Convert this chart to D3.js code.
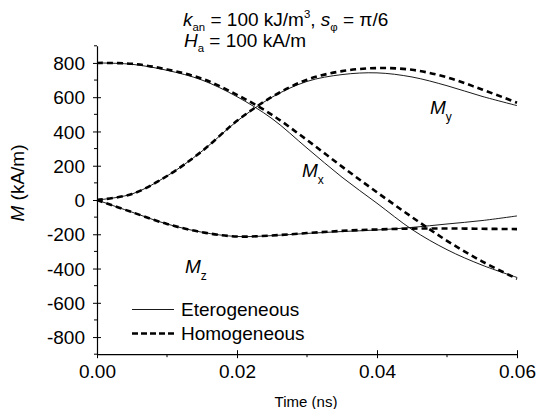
<!DOCTYPE html>
<html>
<head>
<meta charset="utf-8">
<script src="https://cdn.jsdelivr.net/npm/d3@7"></script>
<style>
  body { margin: 0; background: #fff; }
  text { font-family: "Liberation Sans", Arial, sans-serif; fill: #000; }
</style>
</head>
<body>
<script>
// time in ns
var time = [0, 0.005, 0.01, 0.015, 0.02, 0.025, 0.03, 0.035, 0.04, 0.045, 0.05, 0.055, 0.06];

// M components (kA/m), eterogeneous (thin) and homogeneous (dashed)
var mxHet = [800, 792, 757, 700, 603, 475, 303, 133, -19, -172, -290, -380, -452];
var mxHom = [800, 795, 762, 708, 614, 497, 350, 195, 45, -100, -238, -358, -460];
var myHet = [0, 35, 140, 285, 460, 600, 692, 732, 742, 718, 667, 605, 551];
var myHom = [0, 35, 140, 285, 462, 602, 702, 752, 770, 760, 716, 645, 568];
var mzHet = [0, -71, -140, -188, -213, -208, -195, -184, -175, -160, -140, -120, -93];
var mzHom = [0, -71, -140, -188, -213, -207, -193, -180, -172, -167, -166, -168, -170];

var xTicks = [0, 0.02, 0.04, 0.06];
var xMinor = [0.01, 0.03, 0.05];
var yTicks = [-800, -600, -400, -200, 0, 200, 400, 600, 800];
var yMinor = [-900, -700, -500, -300, -100, 100, 300, 500, 700, 900];

var screen = { width: 538, height: 409 };

var svg = d3.select('body')
            .append('svg')
            .attr('width', screen.width)
            .attr('height', screen.height);

var x = d3.scaleLinear().domain([0, 0.06]).range([97, 517]);
var y = d3.scaleLinear().domain([-900, 900]).range([354.2, 45.8]);

// axes
var xAxis = d3.axisBottom(x).tickValues(xTicks).tickSize(0).tickPadding(6)
              .tickFormat(d3.format('.2f'));
var gx = svg.append('g').attr('transform', 'translate(0,' + y(-900) + ')').call(xAxis);
gx.select('.domain').attr('stroke', '#000').attr('stroke-width', 1.2);
gx.selectAll('text').attr('font-size', 19).attr('dy', '0.95em')
  .style('font-family', '"Liberation Sans", Arial, sans-serif');
gx.selectAll('.tick').append('line').attr('y1', -4).attr('y2', 4).attr('stroke', '#000');
gx.selectAll('.minor').data(xMinor).enter().append('line')
  .attr('x1', function(d){ return x(d); }).attr('x2', function(d){ return x(d); })
  .attr('y1', 0).attr('y2', 3).attr('stroke', '#000');

var yAxis = d3.axisLeft(y).tickValues(yTicks).tickSize(0).tickPadding(12)
              .tickFormat(function(d){ return String(d); });
var gy = svg.append('g').attr('transform', 'translate(' + x(0) + ',0)').call(yAxis);
gy.select('.domain').attr('stroke', '#000').attr('stroke-width', 1.2);
gy.selectAll('text').attr('font-size', 19).attr('dy', '0.35em')
  .style('font-family', '"Liberation Sans", Arial, sans-serif');
gy.selectAll('.tick').append('line').attr('x1', -4).attr('x2', 4).attr('stroke', '#000');
gy.selectAll('.minor').data(yMinor).enter().append('line')
  .attr('y1', function(d){ return y(d); }).attr('y2', function(d){ return y(d); })
  .attr('x1', -3).attr('x2', 0).attr('stroke', '#000');

// curves
var line = d3.line()
             .x(function(d){ return x(d[0]); })
             .y(function(d){ return y(d[1]); })
             .curve(d3.curveCatmullRom);

var series = [
  [mxHet, false], [myHet, false], [mzHet, false],
  [mxHom, true], [myHom, true], [mzHom, true]
];
svg.append('g').selectAll('path')
   .data(series)
   .enter()
   .append('path')
   .attr('d', function(s){ return line(time.map(function(t, i){ return [t, s[0][i]]; })); })
   .attr('fill', 'none')
   .attr('stroke', '#000')
   .attr('stroke-width', function(s){ return s[1] ? 2.6 : 0.9; })
   .attr('stroke-dasharray', function(s){ return s[1] ? '6,4' : null; });

// curve labels
function compLabel(px, py, sub) {
  var t = svg.append('text').attr('x', px).attr('y', py).attr('font-size', 19);
  t.append('tspan').attr('font-style', 'italic').text('M');
  t.append('tspan').attr('font-size', 12).attr('dy', 7).text(sub);
}
compLabel(430, 114, 'y');
compLabel(302, 177, 'x');
compLabel(185, 273, 'z');

// title, two lines; parts are [text, kind] with kind n / i / sub / sup
var title1 = [['k', 'i'], ['an', 'sub'], [' = 100 kJ/m', 'n'], ['3', 'sup'], [', ', 'n'],
              ['s', 'i'], ['\u03c6', 'sub'], [' = \u03c0/6', 'n']];
var title2 = [['H', 'i'], ['a', 'sub'], [' = 100 kA/m', 'n']];

function titleLine(parts, px, py, fs) {
  var t = svg.append('text').attr('x', px).attr('y', py).attr('font-size', fs);
  var shift = 0;
  parts.forEach(function(p){
    var ts = t.append('tspan').text(p[0]);
    var want = p[1] === 'sub' ? fs * 0.26 : (p[1] === 'sup' ? -fs * 0.42 : 0);
    ts.attr('dy', want - shift);
    shift = want;
    if (p[1] === 'i') ts.attr('font-style', 'italic');
    if (p[1] === 'sub' || p[1] === 'sup') ts.attr('font-size', fs * 0.6);
  });
}
titleLine(title1, 183, 26, 19);
titleLine(title2, 184, 47, 19);

// axis labels
var yl = svg.append('text')
            .attr('text-anchor', 'middle')
            .attr('font-size', 19)
            .attr('transform', 'translate(24,183) rotate(-90)');
yl.append('tspan').attr('font-style', 'italic').text('M');
yl.append('tspan').text(' (kA/m)');

svg.append('text')
   .attr('text-anchor', 'middle')
   .attr('font-size', 15)
   .attr('x', 306)
   .attr('y', 407)
   .text('Time (ns)');

// legend
var legendItems = [['Eterogeneous', false, 309.5, 316], ['Homogeneous', true, 333.5, 340]];
var legend = svg.append('g');
legendItems.forEach(function(d){
  legend.append('line')
        .attr('x1', 132).attr('x2', 174)
        .attr('y1', d[2]).attr('y2', d[2])
        .attr('stroke', '#000')
        .attr('stroke-width', d[1] ? 2.6 : 0.9)
        .attr('stroke-dasharray', d[1] ? '6,3' : null);
  legend.append('text')
        .attr('x', 181).attr('y', d[3])
        .attr('font-size', 19)
        .text(d[0]);
});
</script>
</body>
</html>
